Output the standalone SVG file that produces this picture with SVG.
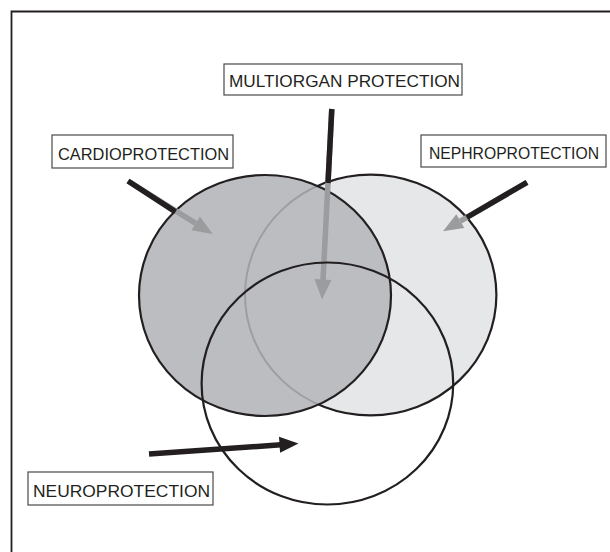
<svg xmlns="http://www.w3.org/2000/svg" width="610" height="552" viewBox="0 0 610 552">
<style>
.lbl{fill:#ffffff;stroke:#4a4a4a;stroke-width:1.2}
.txt{font-family:"Liberation Sans",Arial,sans-serif;font-size:16.5px;fill:#231f20}
.ring{stroke:#231f20;stroke-width:2.2}
.blk{stroke:#231f20;fill:none;stroke-width:5.5}
.gry{stroke:#9b9c9e;fill:none;stroke-width:5.5}
.gh{fill:#9b9c9e}
.bh{fill:#231f20}
</style>
<defs>
<clipPath id="cardioClip"><ellipse cx="265" cy="295.5" rx="125" ry="119.5"/></clipPath>
</defs>
<rect width="610" height="552" fill="#ffffff"/>
<path d="M11.5,552 V11.5 H610" fill="none" stroke="#231f20" stroke-width="1.8"/>

<g id="nephroprotection">
<ellipse class="ring" cx="370.7" cy="295" rx="125.7" ry="120.4" fill="#e6e7e8"/>
<rect class="lbl" x="421" y="135" width="185" height="32"/>
<text class="txt" x="429" y="159" textLength="170" lengthAdjust="spacingAndGlyphs">NEPHROPROTECTION</text>
</g>

<g id="cardioprotection">
<ellipse cx="265" cy="295.5" rx="126" ry="120.5" fill="#bcbdc0"/>
<ellipse cx="370.7" cy="295" rx="125.7" ry="120.4" fill="none" stroke="#9d9ea1" stroke-width="2" clip-path="url(#cardioClip)"/>
<ellipse class="ring" cx="265" cy="295.5" rx="126" ry="120.5" fill="none"/>
<rect class="lbl" x="52" y="135" width="181" height="33"/>
<text class="txt" x="58" y="159.5" textLength="171" lengthAdjust="spacingAndGlyphs">CARDIOPROTECTION</text>
</g>

<g id="connectors">
<!-- cardio arrow -->
<line class="gry" x1="128" y1="181" x2="195.7" y2="223.4"/>
<polygon class="gh" points="191.5,230.2 199.9,216.6 212.7,234"/>
<line class="blk" x1="128" y1="181" x2="175.5" y2="211.9"/>
<!-- multiorgan arrow -->
<line class="gry" x1="331.8" y1="109" x2="323" y2="280"/>
<polygon class="gh" points="331.5,279.9 314.5,279.1 322,299.5"/>
<line class="blk" x1="331.8" y1="109" x2="328" y2="183"/>
<!-- nephro arrow -->
<line class="gry" x1="527" y1="182.3" x2="460.3" y2="221.2"/>
<polygon class="gh" points="464.3,228.1 456.3,214.3 443,231.3"/>
<line class="blk" x1="527" y1="182.3" x2="466.7" y2="217.5"/>
<!-- neuro arrow -->
<line class="blk" x1="149" y1="454" x2="281" y2="444.8" stroke-width="6"/>
<polygon class="bh" points="280.1,452.8 279,436.8 298.5,443.5"/>
</g>

<g id="neuroprotection">
<ellipse class="ring" cx="327.4" cy="383.5" rx="125.8" ry="121" fill="none"/>
<rect class="lbl" x="28" y="472" width="185" height="33"/>
<text class="txt" x="33" y="497" textLength="177" lengthAdjust="spacingAndGlyphs">NEUROPROTECTION</text>
</g>

<g id="multiorgan-protection">
<rect class="lbl" x="224" y="64" width="238" height="31"/>
<text class="txt" x="229" y="87" textLength="231" lengthAdjust="spacingAndGlyphs">MULTIORGAN PROTECTION</text>
</g>
</svg>
